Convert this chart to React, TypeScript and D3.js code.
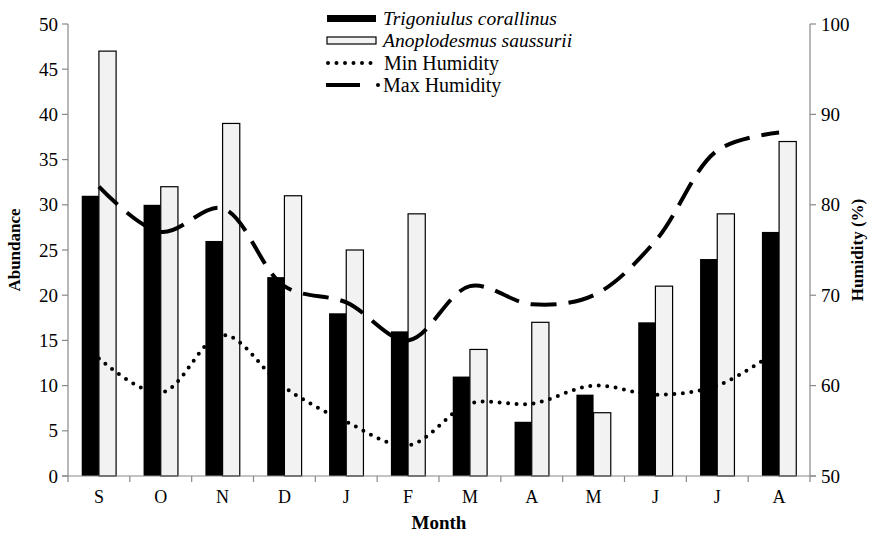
import React from 'react';
import * as d3 from 'd3';

// chart data
const months = ['S', 'O', 'N', 'D', 'J', 'F', 'M', 'A', 'M', 'J', 'J', 'A'];
const trigoniulus = [31, 30, 26, 22, 18, 16, 11, 6, 9, 17, 24, 27];
const anoplodesmus = [47, 32, 39, 31, 25, 29, 14, 17, 7, 21, 29, 37];
const minHumidity = [63, 59.2, 65.6, 59.8, 56, 53.4, 58, 58, 60, 59, 60, 64];
const maxHumidity = [82, 77, 79.6, 71, 69.2, 65, 71, 69, 70, 76, 86, 88];
const leftTicks = [0, 5, 10, 15, 20, 25, 30, 35, 40, 45, 50];
const rightTicks = [50, 60, 70, 80, 90, 100];

const W = 873;
const H = 536;
const font = "'Liberation Serif', 'DejaVu Serif', serif";

const App = () => {
  // plot area
  const margin = { top: 24, right: 63, bottom: 60, left: 68 };
  const x0 = margin.left;
  const x1 = W - margin.right;
  const y0 = H - margin.bottom;
  const y1 = margin.top;
  const txt = { fontFamily: font };

  const xBand = d3.scaleBand<number>().domain(months.map((_, i) => i)).range([x0, x1]);
  const bw = xBand.bandwidth();
  const barW = bw * 0.278;
  const yLeft = d3.scaleLinear().domain([0, 50]).range([y0, y1]);
  const yRight = d3.scaleLinear().domain([50, 100]).range([y0, y1]);
  const cx = (i: number) => (xBand(i) as number) + bw / 2;

  const line = d3
    .line<number>()
    .x((_, i) => cx(i))
    .y((d) => yRight(d))
    .curve(d3.curveCatmullRom.alpha(0.5));

  const bandEdges = months.map((_, i) => xBand(i) as number).concat([x1]);

  return (
    <svg width={W} height={H} style={{ position: 'absolute', left: 0, top: 0 }}>
      <rect width={W} height={H} fill="#fff" />

      {/* bars */}
      {trigoniulus.map((v, i) => (
        <rect key={'t' + i} x={cx(i) - barW} y={yLeft(v)} width={barW} height={y0 - yLeft(v)} fill="#000" />
      ))}
      {anoplodesmus.map((v, i) => (
        <rect
          key={'a' + i}
          x={cx(i)}
          y={yLeft(v)}
          width={barW}
          height={y0 - yLeft(v)}
          fill="#f2f2f2"
          stroke="#000"
          strokeWidth={1.2}
        />
      ))}

      {/* humidity lines */}
      <path d={line(minHumidity) || ''} fill="none" stroke="#000" strokeWidth={4} strokeLinecap="round" strokeDasharray="0 8.5" />
      <path d={line(maxHumidity) || ''} fill="none" stroke="#000" strokeWidth={4} strokeDasharray="26 12" />

      {/* left axis */}
      <line x1={x0} x2={x0} y1={y1} y2={y0} stroke="#888" strokeWidth={1.2} />
      {leftTicks.map((t) => (
        <g key={'l' + t}>
          <line x1={x0 - 6} x2={x0} y1={yLeft(t)} y2={yLeft(t)} stroke="#888" strokeWidth={1.2} />
          <text style={txt} x={x0 - 10} y={yLeft(t)} dy="0.35em" textAnchor="end" fontSize={19}>{t}</text>
        </g>
      ))}

      {/* right axis */}
      <line x1={x1} x2={x1} y1={y1} y2={y0} stroke="#888" strokeWidth={1.2} />
      {rightTicks.map((t) => (
        <g key={'r' + t}>
          <line x1={x1} x2={x1 + 6} y1={yRight(t)} y2={yRight(t)} stroke="#888" strokeWidth={1.2} />
          <text style={txt} x={x1 + 11} y={yRight(t)} dy="0.35em" textAnchor="start" fontSize={19}>{t}</text>
        </g>
      ))}

      {/* bottom axis */}
      <line x1={x0 - 6} x2={x1 + 6} y1={y0} y2={y0} stroke="#888" strokeWidth={1.2} />
      {bandEdges.map((e, i) => (
        <line key={'b' + i} x1={e} x2={e} y1={y0} y2={y0 + 6} stroke="#888" strokeWidth={1.2} />
      ))}
      {months.map((m, i) => (
        <text style={txt} key={'m' + i} x={cx(i)} y={y0 + 27} textAnchor="middle" fontSize={18}>{m}</text>
      ))}

      {/* axis titles */}
      <text style={txt} transform={`translate(20,${(y0 + y1) / 2}) rotate(-90)`} textAnchor="middle" fontSize={17} fontWeight="bold">Abundance</text>
      <text style={txt} transform={`translate(863,${(y0 + y1) / 2}) rotate(-90)`} textAnchor="middle" fontSize={17} fontWeight="bold">Humidity (%)</text>
      <text style={txt} x={(x0 + x1) / 2} y={529} textAnchor="middle" fontSize={19} fontWeight="bold">Month</text>

      {/* legend */}
      <g fontSize={20}>
        <rect x={327} y={15} width={49} height={7} fill="#000" />
        <text style={txt} x={383} y={25} fontStyle="italic" fontSize={19.5}>Trigoniulus corallinus</text>
        <rect x={327} y={37} width={49} height={7} fill="#f2f2f2" stroke="#000" strokeWidth={1.2} />
        <text style={txt} x={383} y={47} fontStyle="italic" fontSize={19.5}>Anoplodesmus saussurii</text>
        <line x1={328} x2={372} y1={63} y2={63} stroke="#000" strokeWidth={4} strokeLinecap="round" strokeDasharray="0 8.5" />
        <text style={txt} x={384} y={70}>Min Humidity</text>
        <line x1={326} x2={360} y1={85} y2={85} stroke="#000" strokeWidth={4} />
        <circle cx={378} cy={85} r={2} fill="#000" />
        <text style={txt} x={383} y={92}>Max Humidity</text>
      </g>
    </svg>
  );
};

export default App;
